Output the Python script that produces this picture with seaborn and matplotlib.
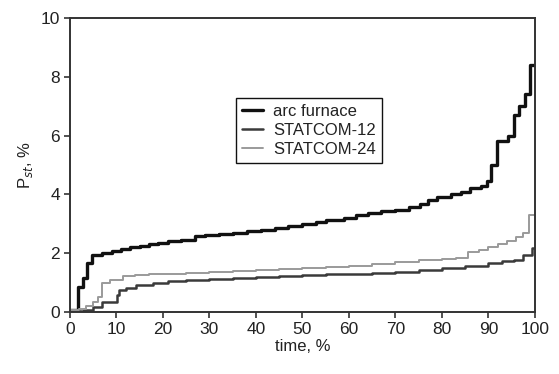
import matplotlib
matplotlib.use("Agg")
import matplotlib.pyplot as plt
import seaborn as sns
import pandas as pd

# ---- data ----
arc_x = [0, 1.8, 2.9, 3.6, 4.7, 7, 9, 11, 13, 15, 17, 19, 21, 24, 26.8, 29, 32, 35, 38, 41,
         44, 47, 50, 53, 55, 59, 61.5, 64, 67, 70, 73, 75.3, 77, 79, 82, 84, 86, 88.5, 89.7,
         90.5, 91.8, 94.2, 95.5, 96.6, 97.9, 99.0, 100]
arc_y = [0.08, 0.86, 1.15, 1.65, 1.93, 2.0, 2.07, 2.15, 2.2, 2.25, 2.32, 2.36, 2.4, 2.45, 2.57,
         2.62, 2.66, 2.7, 2.76, 2.8, 2.85, 2.92, 2.98, 3.07, 3.14, 3.2, 3.3, 3.35, 3.42, 3.48,
         3.56, 3.66, 3.8, 3.9, 4.0, 4.08, 4.2, 4.3, 4.45, 5.0, 5.8, 6.0, 6.7, 7.0, 7.4, 8.4, 8.4]

s12_x = [0, 3, 5, 6.8, 10.1, 10.5, 12.1, 14.3, 17.9, 21, 25, 30, 35, 40, 45, 50, 55, 60, 65,
         70, 75, 80, 85, 90, 93, 95.5, 97.5, 99.3, 100]
s12_y = [0.03, 0.08, 0.17, 0.34, 0.57, 0.74, 0.8, 0.91, 1.0, 1.04, 1.08, 1.11, 1.16, 1.2, 1.23,
         1.26, 1.29, 1.3, 1.33, 1.37, 1.42, 1.48, 1.55, 1.65, 1.72, 1.78, 1.94, 2.17, 2.17]

s24_x = [0, 2, 3.5, 5, 6.1, 6.8, 8.6, 11.5, 14, 17, 21.5, 25, 30, 35, 40, 45, 50, 55, 60, 65,
         70, 75, 80, 83, 85.7, 88, 90, 92, 94, 96, 97.5, 98.8, 100]
s24_y = [0.06, 0.1, 0.2, 0.34, 0.5, 1.0, 1.08, 1.22, 1.27, 1.3, 1.3, 1.33, 1.37, 1.4, 1.43,
         1.47, 1.51, 1.54, 1.56, 1.62, 1.7, 1.75, 1.79, 1.82, 2.05, 2.12, 2.2, 2.3, 2.42, 2.55,
         2.68, 3.3, 3.3]

labels = ["arc furnace", "STATCOM-12", "STATCOM-24"]
x_ticks = [0, 10, 20, 30, 40, 50, 60, 70, 80, 90, 100]
y_ticks = [0, 2, 4, 6, 8, 10]

sns.set_style("white")
plt.rcParams['font.family'] = ['Liberation Sans Narrow', 'Liberation Sans', 'DejaVu Sans']

fig = plt.figure(figsize=(5.59, 3.74), dpi=100)
ax = fig.add_axes([0.125, 0.166, 0.832, 0.786])

series = [
    (arc_x, arc_y, labels[0], "#111111", 2.4),
    (s12_x, s12_y, labels[1], "#3a3a3a", 1.8),
    (s24_x, s24_y, labels[2], "#9a9a9a", 1.4),
]
for xs, ys, lab, col, lw in series:
    df = pd.DataFrame({"time": xs, "val": ys})
    sns.lineplot(data=df, x="time", y="val", ax=ax, color=col, linewidth=lw,
                 drawstyle="steps-post", label=lab, sort=False, estimator=None)

ax.set_xlim(0, 100)
ax.set_ylim(0, 10)
ax.set_xticks(x_ticks)
ax.set_yticks(y_ticks)
ax.tick_params(bottom=True, left=True, direction="out", length=4, width=1.2, color="#333333",
               labelsize=12.5, labelcolor="#222222", pad=3)
for sp in ax.spines.values():
    sp.set_visible(True)
    sp.set_color("#333333")
    sp.set_linewidth(1.4)

ax.set_xlabel("time, %", fontsize=12, color="#222222", labelpad=2)
ax.set_ylabel("P$_{st}$, %", fontsize=12, color="#222222", labelpad=4)

leg = ax.legend(loc="upper left", bbox_to_anchor=(0.422, 0.738), bbox_transform=fig.transFigure,
                borderaxespad=0, fancybox=False, framealpha=1, edgecolor="#111111",
                fontsize=12, handlelength=1.3, handletextpad=0.6, labelspacing=0.25,
                borderpad=0.35)
leg.get_frame().set_linewidth(1.0)
for t in leg.get_texts():
    t.set_color("#222222")

fig.savefig("out.png", dpi=100)
